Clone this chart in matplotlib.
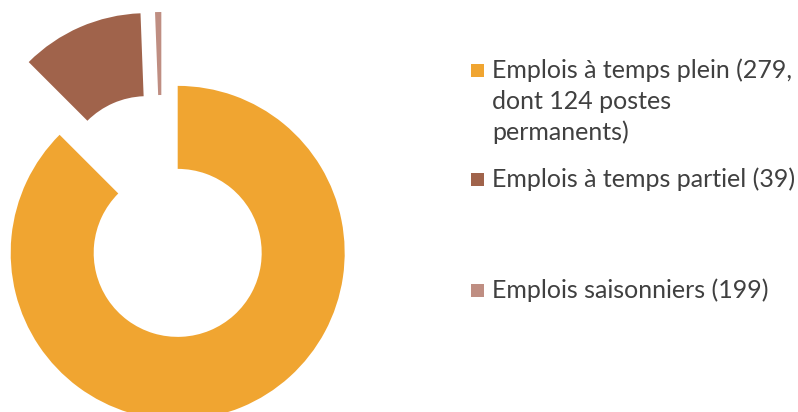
import matplotlib
matplotlib.use("Agg")
import matplotlib.pyplot as plt
from matplotlib.patches import Rectangle

# Données
labels = [
    "Emplois à temps plein (279,\ndont 124 postes\npermanents)",
    "Emplois à temps partiel (39)",
    "Emplois saisonniers (199)",
]
shares = [87.5, 11.9, 0.6]          # parts (%)
colors = ["#F0A531", "#A0634B", "#BF8E82"]
explode = [41, 38, 36]               # en pixels (unités de données)

# baseline (pixel y from top) of each legend entry's first line
legend_y = [78, 187, 298]
line_step = 31

W, H = 798, 412
fig = plt.figure(figsize=(W / 100, H / 100), dpi=100)
ax = fig.add_axes([0, 0, 1, 1])

ax.pie(shares, colors=colors, explode=explode, startangle=90,
       counterclock=False, center=(162, H - 215), radius=167,
       wedgeprops=dict(width=83, linewidth=0))
ax.set_xlim(0, W)
ax.set_ylim(0, H)
ax.set_aspect("equal")
ax.set_axis_off()

# Légende manuelle
for lab, col, yy in zip(labels, colors, legend_y):
    y = H - yy
    ax.add_patch(Rectangle((471, y + 1), 13, 13, facecolor=col, edgecolor="none"))
    for i, line in enumerate(lab.split("\n")):
        ax.text(492, y - i * line_step, line, fontsize=18,
                family=["Lato", "DejaVu Sans"], color="#404040",
                va="baseline", ha="left")

fig.savefig("out.png", dpi=100)
